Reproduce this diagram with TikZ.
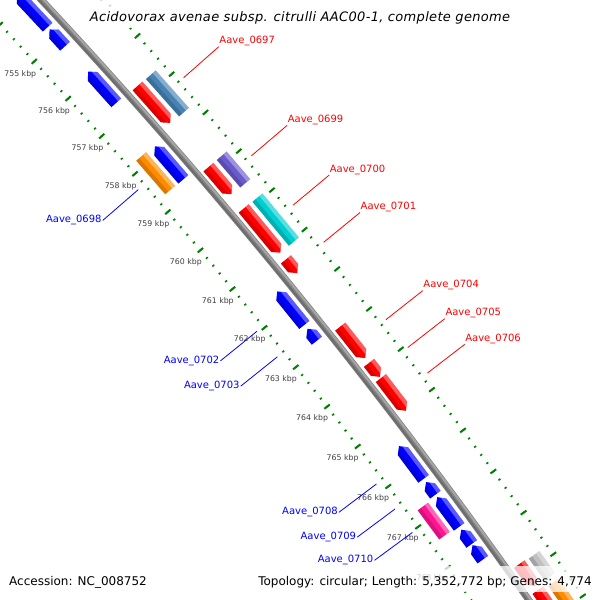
\documentclass[tikz,border=0pt]{standalone}
\usepackage{fontspec}
\setmainfont{DejaVu Sans}
\usepackage{tikz}

\definecolor{tickgreen}{RGB}{0,128,0}
\definecolor{fwdred}{RGB}{255,0,0}
\definecolor{revblue}{RGB}{0,0,255}
\definecolor{cogsteel}{RGB}{70,130,180}
\definecolor{cogslate}{RGB}{106,90,205}
\definecolor{cogcyan}{RGB}{0,206,209}
\definecolor{cogorange}{RGB}{255,140,0}
\definecolor{cogpink}{RGB}{255,20,147}
\definecolor{cogsilver}{RGB}{192,192,192}
\definecolor{backbone}{RGB}{128,128,128}

% angle of a genome position (in kbp) on the backbone circle
\newcommand{\ka}[1]{(42.63-0.519*(#1-755))}

% outline of a gene block: start, end, radius, tip at start, tip at end
\newcommand{\geneoutline}[5]{({\ka{#1}}:{#3}) -- ({\ka{#1+#4}}:{#3-6.5}) -- ({\ka{#2-#5}}:{#3-6.5})
      -- ({\ka{#2}}:{#3}) -- ({\ka{#2-#5}}:{#3+6.5}) -- ({\ka{#1+#4}}:{#3+6.5}) -- cycle}

% gene block: start, end, radius, colour, tip at start, tip at end
\newcommand{\gene}[6]{%
  \fill[#4] \geneoutline{#1}{#2}{#3}{#5}{#6};
  \begin{scope}
    \clip \geneoutline{#1}{#2}{#3}{#5}{#6};
    \fill[white, fill opacity=.35] ({\ka{#1}}:{#3+2.5}) -- ({\ka{#2}}:{#3+2.5})
      -- ({\ka{#2}}:{#3+8}) -- ({\ka{#1}}:{#3+8}) -- cycle;
    \fill[black, fill opacity=.15] ({\ka{#1}}:{#3-2.5}) -- ({\ka{#2}}:{#3-2.5})
      -- ({\ka{#2}}:{#3-8}) -- ({\ka{#1}}:{#3-8}) -- cycle;
  \end{scope}}
\newcommand{\fwdgene}[3]{\gene{#1}{#2}{5613}{#3}{0}{0.128}}
\newcommand{\revgene}[3]{\gene{#1}{#2}{5586}{#3}{0.128}{0}}
\newcommand{\fwdcog}[3]{\gene{#1}{#2}{5630.5}{#3}{0}{0}}
\newcommand{\revcog}[3]{\gene{#1}{#2}{5569}{#3}{0}{0}}

\tikzset{
  kbplabel/.style={font=\fontsize{7.8}{9}\selectfont, text=black!75, inner sep=0pt},
  fwdlabel/.style={font=\fontsize{10}{12}\selectfont, text=fwdred, anchor=south west, inner sep=0.5pt},
  revlabel/.style={font=\fontsize{10}{12}\selectfont, text=revblue, anchor=east, inner sep=1pt},
  fwdline/.style={fwdred, line width=0.8pt},
  revline/.style={revblue, line width=0.8pt},
  legendbox/.style={fill=white, fill opacity=0.75},
  legendtext/.style={font=\fontsize{12}{14}\selectfont, inner sep=0pt},
}

\begin{document}
\begin{tikzpicture}[x=1pt, y=1pt]
  \useasboundingbox (0,0) rectangle (600,600);
  \clip (0,0) rectangle (600,600);
  \fill[white] (0,0) rectangle (600,600);

  \begin{scope}[shift={(-4051.1,-3222.1)}]
    % Draw the two rulers
    \foreach \k in {753.0,753.2,...,770.0} {
      \draw[tickgreen, line width=1.6pt] ({\ka{\k}}:5551.8) -- ({\ka{\k}}:5554.2);
      \draw[tickgreen, line width=1.6pt] ({\ka{\k}}:5645.3) -- ({\ka{\k}}:5647.7);
    }
    \foreach \k in {753,...,770} {
      \draw[tickgreen, line width=2pt] ({\ka{\k}}:5549.5) -- ({\ka{\k}}:5556.5);
      \draw[tickgreen, line width=2pt] ({\ka{\k}}:5643) -- ({\ka{\k}}:5650);
    }
    \foreach \k in {755,...,768} {
      \node[kbplabel] (kbp\k) at ({\ka{\k}}:5534) {\k\ kbp};
    }

    % Draw the backbone
    \draw[backbone, line width=7pt] ({\ka{752}}:5600) arc[start angle={\ka{752}}, end angle={\ka{771}}, radius=5600pt];
    \draw[white, opacity=.3, line width=2pt] ({\ka{752}}:5601.8) arc[start angle={\ka{752}}, end angle={\ka{771}}, radius=5601.8pt];
    \draw[black, opacity=.15, line width=1.75pt] ({\ka{752}}:5598.2) arc[start angle={\ka{752}}, end angle={\ka{771}}, radius=5598.2pt];

    % Draw the genes on the forward strand
    \fwdgene{756.73}{757.70}{fwdred}
    \fwdgene{758.85}{759.55}{fwdred}
    \fwdgene{759.92}{761.05}{fwdred}
    \fwdgene{761.22}{761.57}{fwdred}
    \fwdgene{762.92}{763.71}{fwdred}
    \fwdgene{763.83}{764.18}{fwdred}
    \fwdgene{764.21}{765.02}{fwdred}
    \fwdgene{768.77}{769.30}{fwdred}
    \fwdgene{769.40}{770.60}{fwdred}
    \fwdcog{756.74}{757.72}{cogsteel}
    \fwdcog{758.85}{759.56}{cogslate}
    \fwdcog{759.93}{761.05}{cogcyan}
    \fwdcog{768.79}{769.32}{cogsilver}
    \fwdcog{769.45}{770.60}{cogorange}

    % Draw the genes on the reverse strand
    \revgene{753.80}{754.68}{revblue}
    \revgene{754.74}{755.19}{revblue}
    \revgene{755.87}{756.70}{revblue}
    \revgene{757.85}{758.71}{revblue}
    \revgene{761.60}{762.45}{revblue}
    \revgene{762.55}{762.85}{revblue}
    \revgene{765.49}{766.30}{revblue}
    \revgene{766.38}{766.69}{revblue}
    \revgene{766.75}{767.48}{revblue}
    \revgene{767.55}{767.90}{revblue}
    \revgene{767.93}{768.28}{revblue}
    \revcog{757.82}{758.70}{cogorange}
    \revcog{766.73}{767.45}{cogpink}

    % Label the genes on the forward strand
    \coordinate (g0697) at ({\ka{757.21}}:5653);
    \node[fwdlabel] (l0697) at ({\ka{757.21}}:5700) {Aave\_0697};
    \draw[fwdline] (g0697) -- (l0697.south west);
    \coordinate (g0699) at ({\ka{759.23}}:5653);
    \node[fwdlabel] (l0699) at ({\ka{759.23}}:5700) {Aave\_0699};
    \draw[fwdline] (g0699) -- (l0699.south west);
    \coordinate (g0700) at ({\ka{760.49}}:5653);
    \node[fwdlabel] (l0700) at ({\ka{760.49}}:5700) {Aave\_0700};
    \draw[fwdline] (g0700) -- (l0700.south west);
    \coordinate (g0701) at ({\ka{761.43}}:5653);
    \node[fwdlabel] (l0701) at ({\ka{761.43}}:5700) {Aave\_0701};
    \draw[fwdline] (g0701) -- (l0701.south west);
    \coordinate (g0704) at ({\ka{763.37}}:5653);
    \node[fwdlabel] (l0704) at ({\ka{763.37}}:5700) {Aave\_0704};
    \draw[fwdline] (g0704) -- (l0704.south west);
    \coordinate (g0705) at ({\ka{764.06}}:5653);
    \node[fwdlabel] (l0705) at ({\ka{764.06}}:5700) {Aave\_0705};
    \draw[fwdline] (g0705) -- (l0705.south west);
    \coordinate (g0706) at ({\ka{764.69}}:5653);
    \node[fwdlabel] (l0706) at ({\ka{764.69}}:5700) {Aave\_0706};
    \draw[fwdline] (g0706) -- (l0706.south west);

    % Label the genes on the reverse strand
    \coordinate (g0698) at ({\ka{758.28}}:5545);
    \node[revlabel] (l0698) at ({\ka{758.28}}:5498) {Aave\_0698};
    \draw[revline] (g0698) -- (l0698.east);
    \coordinate (g0702) at ({\ka{761.96}}:5545);
    \node[revlabel] (l0702) at ({\ka{761.96}}:5498) {Aave\_0702};
    \draw[revline] (g0702) -- (l0702.east);
    \coordinate (g0703) at ({\ka{762.61}}:5545);
    \node[revlabel] (l0703) at ({\ka{762.61}}:5498) {Aave\_0703};
    \draw[revline] (g0703) -- (l0703.east);
    \coordinate (g0708) at ({\ka{765.82}}:5545);
    \node[revlabel] (l0708) at ({\ka{765.82}}:5498) {Aave\_0708};
    \draw[revline] (g0708) -- (l0708.east);
    \coordinate (g0709) at ({\ka{766.44}}:5545);
    \node[revlabel] (l0709) at ({\ka{766.44}}:5498) {Aave\_0709};
    \draw[revline] (g0709) -- (l0709.east);
    \coordinate (g0710) at ({\ka{767.02}}:5545);
    \node[revlabel] (l0710) at ({\ka{767.02}}:5498) {Aave\_0710};
    \draw[revline] (g0710) -- (l0710.east);
  \end{scope}

  % Draw the title and the legend
  \fill[legendbox] (82,572) rectangle (517,600);
  \fill[legendbox] (4,8) rectangle (174,33);
  \fill[legendbox] (256,8) rectangle (594,34);
  \node[font=\itshape\fontsize{13}{15}\selectfont\addfontfeature{LetterSpace=2.5}] (title) at (300,582) {Acidovorax avenae subsp. citrulli AAC00-1, complete genome};
  \node[legendtext, anchor=west] (accession) at (9,18) {Accession: NC\_008752};
  \node[legendtext] (topology) at (425,18) {Topology: circular; Length: 5,352,772 bp; Genes: 4,774};
\end{tikzpicture}
\end{document}
